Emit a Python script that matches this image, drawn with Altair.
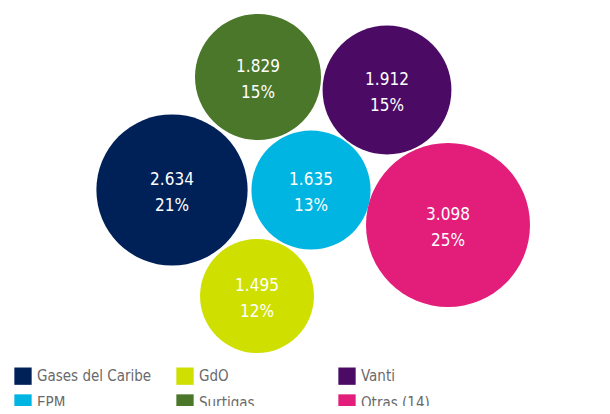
import altair as alt
import pandas as pd

# Data
companies = ["Gases del Caribe", "GdO", "Vanti", "EPM", "Surtigas", "Otras (14)"]
values = [2634, 1495, 1912, 1635, 1829, 3098]
percents = [21, 12, 15, 13, 15, 25]
colors = ["#002157", "#cfdf00", "#4b0b64", "#00b5e1", "#4b772b", "#e31d7a"]

# Legend order (filled column by column: 3 columns x 2 rows)
legend_order = ["Gases del Caribe", "EPM", "GdO", "Surtigas", "Vanti", "Otras (14)"]

# Packed-bubble layout (centre positions, page pixel units)
center_x = [172, 257, 387, 311, 258, 448]
center_y = [190, 296, 90, 190, 77, 225]

labels = [f"{v:,}".replace(",", ".") + "\n" + f"{p}%" for v, p in zip(values, percents)]

df = pd.DataFrame({
    "empresa": companies,
    "valor": values,
    "cx": center_x,
    "cy": center_y,
    "label": labels,
})

FONT = "Liberation Sans Narrow, DejaVu Sans Condensed, sans-serif"

xs = alt.Scale(domain=[8, 602], nice=False, zero=False)
ys = alt.Scale(domain=[8, 406], nice=False, zero=False, reverse=True)

color_map = dict(zip(companies, colors))

base = alt.Chart(df)

bubbles = base.mark_circle(opacity=1).encode(
    x=alt.X("cx:Q", scale=xs, axis=None),
    y=alt.Y("cy:Q", scale=ys, axis=None),
    size=alt.Size("valor:Q", scale=alt.Scale(domain=[0, 3098], range=[0, 26900], zero=True), legend=None),
    color=alt.Color(
        "empresa:N",
        scale=alt.Scale(domain=legend_order, range=[color_map[c] for c in legend_order]),
        legend=alt.Legend(
            title=None,
            orient="none",
            legendX=6,
            legendY=359,
            columns=3,
            gridAlign="all",
            columnPadding=24,
            rowPadding=9,
            symbolType="square",
            symbolSize=300,
            symbolStrokeWidth=0,
            labelFontSize=15,
            labelFont=FONT,
            labelColor="#6a6a6a",
            labelOffset=5,
        ),
    ),
)

texts = base.mark_text(
    color="white",
    fontSize=17,
    font=FONT,
    lineBreak="\n",
    lineHeight=26,
    dy=-10,
).encode(
    x=alt.X("cx:Q", scale=xs),
    y=alt.Y("cy:Q", scale=ys),
    text="label:N",
)

chart = (bubbles + texts).properties(
    width=594,
    height=398,
    padding=0,
    autosize=alt.AutoSizeParams(type="none"),
).configure_view(stroke=None)

chart.save("out.html", embed_options={"renderer": "svg", "actions": False})
